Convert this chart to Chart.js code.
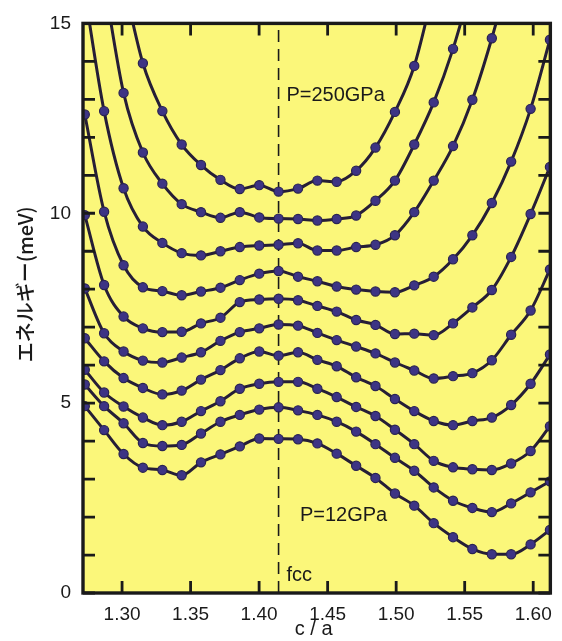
<!DOCTYPE html>
<html>
<head>
<meta charset="utf-8">
<script src="https://cdn.jsdelivr.net/npm/chart.js@4/dist/chart.umd.min.js"></script>
<style>
  html, body { margin: 0; padding: 0; background: #fff; }
  #wrap { width: 562px; height: 641px; }
</style>
</head>
<body>
<div id="wrap"><canvas id="energyChart" width="562" height="641"></canvas></div>
<script>
// c/a values of the computed points (sqrt(2) * 0.90 ... 1.14)
const caRatio = [1.2728, 1.2869, 1.3011, 1.3152, 1.3294, 1.3435, 1.3576, 1.3718, 1.3859, 1.4001,
                 1.4142, 1.4284, 1.4425, 1.4566, 1.4708, 1.4849, 1.4991, 1.5132, 1.5274, 1.5415,
                 1.5556, 1.5698, 1.5839, 1.5981, 1.6122];
const fccRatio = 1.4142;

// energies (meV), top curve = P=250GPa ... bottom curve = P=12GPa
// values above 15 are only there so the line runs out through the top frame
const curveA = [null, null, 16.1, 13.95, 12.69, 11.81, 11.27, 10.88, 10.64, 10.74, 10.57, 10.65, 10.86, 10.83, 11.12, 11.73, 12.67, 13.88, 15.9, null, null, null, null, null, null];
const curveB = [null, 16.1, 13.17, 11.6, 10.78, 10.24, 10.03, 9.88, 10.03, 9.89, 9.86, 9.85, 9.81, 9.85, 9.94, 10.33, 10.86, 11.81, 12.92, 14.33, 16.1, null, null, null, null];
const curveC = [15.8, 12.69, 10.66, 9.65, 9.22, 8.95, 8.89, 9.0, 9.11, 9.15, 9.17, 9.21, 9.02, 9.02, 9.11, 9.17, 9.42, 10.03, 10.86, 11.77, 12.99, 14.61, 16.5, null, null];
const curveD = [12.6, 10.04, 8.63, 8.05, 7.95, 7.84, 7.94, 8.04, 8.24, 8.41, 8.48, 8.33, 8.21, 8.07, 7.99, 7.94, 7.92, 8.10, 8.33, 8.79, 9.42, 10.27, 11.36, 12.75, 14.57];
const curveE = [9.95, 8.11, 7.28, 6.97, 6.87, 6.88, 7.10, 7.25, 7.66, 7.73, 7.75, 7.71, 7.56, 7.41, 7.19, 7.06, 6.82, 6.83, 6.79, 7.10, 7.52, 7.98, 8.85, 9.98, 11.22];
const curveF = [8.02, 6.84, 6.36, 6.12, 6.07, 6.20, 6.34, 6.64, 6.87, 6.97, 7.07, 7.04, 6.85, 6.66, 6.49, 6.31, 6.07, 5.86, 5.65, 5.71, 5.79, 6.13, 6.80, 7.44, 8.52];
const curveG = [6.71, 6.10, 5.66, 5.40, 5.23, 5.33, 5.62, 5.87, 6.18, 6.36, 6.25, 6.34, 6.14, 5.97, 5.68, 5.45, 5.11, 4.79, 4.53, 4.42, 4.53, 4.62, 4.95, 5.51, 6.28];
const curveH = [5.88, 5.28, 4.91, 4.62, 4.42, 4.51, 4.79, 5.05, 5.38, 5.51, 5.56, 5.56, 5.38, 5.16, 4.90, 4.66, 4.30, 3.92, 3.48, 3.31, 3.26, 3.24, 3.41, 3.74, 4.39];
const curveI = [5.49, 4.92, 4.47, 3.95, 3.87, 3.90, 4.20, 4.51, 4.69, 4.83, 4.89, 4.81, 4.69, 4.51, 4.25, 3.92, 3.56, 3.22, 2.78, 2.43, 2.24, 2.13, 2.36, 2.65, 2.94];
const curveJ = [4.92, 4.29, 3.66, 3.30, 3.24, 3.10, 3.44, 3.65, 3.86, 4.07, 4.06, 4.05, 3.94, 3.67, 3.35, 3.03, 2.62, 2.30, 1.84, 1.47, 1.16, 1.02, 1.02, 1.28, 1.66];

const energyLabels = [0, 5, 10, 15];
const xTitle = 'c / a';
const yTitle = 'エネルギー(meV)';
const notes = [
    { text: 'P=250GPa', x: 1.4199, y: 13.09 },
    { text: 'P=12GPa', x: 1.4298, y: 2.04 },
    { text: 'fcc', x: 1.4199, y: 0.47 }
];

const LINE = '#261e36';
const DOT = '#3d3484';
const INK = '#1a1a1a';

const toPoints = arr => arr.map((v, i) => ({ x: caRatio[i], y: v }));

const curveSet = (arr) => ({
    data: toPoints(arr),
    borderColor: LINE,
    borderWidth: 3,
    pointRadius: 4.6,
    pointBackgroundColor: DOT,
    pointBorderColor: '#2a2352',
    pointBorderWidth: 1.2,
    cubicInterpolationMode: 'monotone',
    spanGaps: false
});

// frame, inward ticks, titles and notes
const framePlugin = {
    id: 'framePlugin',
    beforeDraw(chart) {
        const a = chart.chartArea, ctx = chart.ctx;
        ctx.save();
        ctx.fillStyle = '#fbf77a';
        ctx.fillRect(a.left, a.top, a.right - a.left, a.bottom - a.top);
        ctx.restore();
    },
    afterDraw(chart) {
        const a = chart.chartArea, ctx = chart.ctx;
        const xs = chart.scales.x, ys = chart.scales.y;
        const TL = 12;
        ctx.save();
        ctx.strokeStyle = INK;
        ctx.lineWidth = 2.8;
        ctx.beginPath();
        xs.ticks.forEach(t => {
            const px = xs.getPixelForValue(t.value);
            ctx.moveTo(px, a.bottom); ctx.lineTo(px, a.bottom - TL);
            ctx.moveTo(px, a.top); ctx.lineTo(px, a.top + TL);
        });
        ys.ticks.forEach(t => {
            const py = ys.getPixelForValue(t.value);
            ctx.moveTo(a.left, py); ctx.lineTo(a.left + TL, py);
            ctx.moveTo(a.right, py); ctx.lineTo(a.right - TL, py);
        });
        ctx.stroke();

        ctx.lineWidth = 3.4;
        ctx.strokeRect(a.left, a.top, a.right - a.left, a.bottom - a.top);

        ctx.fillStyle = INK;
        ctx.font = '20px "Liberation Sans", Arial, sans-serif';
        ctx.textAlign = 'left';
        ctx.textBaseline = 'middle';
        notes.forEach(n => {
            ctx.fillText(n.text, xs.getPixelForValue(n.x), ys.getPixelForValue(n.y));
        });

        ctx.textAlign = 'center';
        ctx.fillText(xTitle, (a.left + a.right) / 2 - 3, 629);

        ctx.translate(25, (a.top + a.bottom) / 2 - 24);
        ctx.rotate(-Math.PI / 2);
        ctx.font = '500 20px "Noto Sans CJK JP", sans-serif';
        ctx.fillText(yTitle, 0, 0);
        ctx.restore();
    }
};

new Chart(document.getElementById('energyChart'), {
    type: 'line',
    data: {
        datasets: [
            curveSet(curveA), curveSet(curveB), curveSet(curveC), curveSet(curveD), curveSet(curveE),
            curveSet(curveF), curveSet(curveG), curveSet(curveH), curveSet(curveI), curveSet(curveJ),
            {
                // fcc reference line, drawn first (last dataset)
                data: [{ x: fccRatio, y: 0 }, { x: fccRatio, y: 15 }],
                borderColor: INK,
                borderWidth: 1.6,
                borderDash: [12, 7],
                pointRadius: 0,
                tension: 0
            }
        ]
    },
    options: {
        responsive: false,
        animation: false,
        layout: { padding: { left: 0, right: 8, top: 20, bottom: 0 } },
        plugins: { legend: { display: false }, tooltip: { enabled: false } },
        scales: {
            x: {
                type: 'linear',
                min: 1.2715,
                max: 1.6125,
                border: { display: false },
                grid: { display: false, drawTicks: false },
                ticks: {
                    stepSize: 0.05,
                    includeBounds: false,
                    autoSkip: false,
                    maxRotation: 0,
                    padding: 10,
                    color: INK,
                    font: { family: '"Liberation Sans", Arial, sans-serif', size: 19 },
                    callback: v => v.toFixed(2)
                },
                afterFit: s => { s.height = 48; }
            },
            y: {
                min: 0,
                max: 15,
                border: { display: false },
                grid: { display: false, drawTicks: false },
                ticks: {
                    stepSize: 1,
                    autoSkip: false,
                    padding: 12,
                    color: INK,
                    font: { family: '"Liberation Sans", Arial, sans-serif', size: 19 },
                    callback: v => energyLabels.includes(v) ? String(v) : ''
                },
                afterFit: s => { s.width = 83; }
            }
        }
    },
    plugins: [framePlugin]
});
</script>
</body>
</html>
